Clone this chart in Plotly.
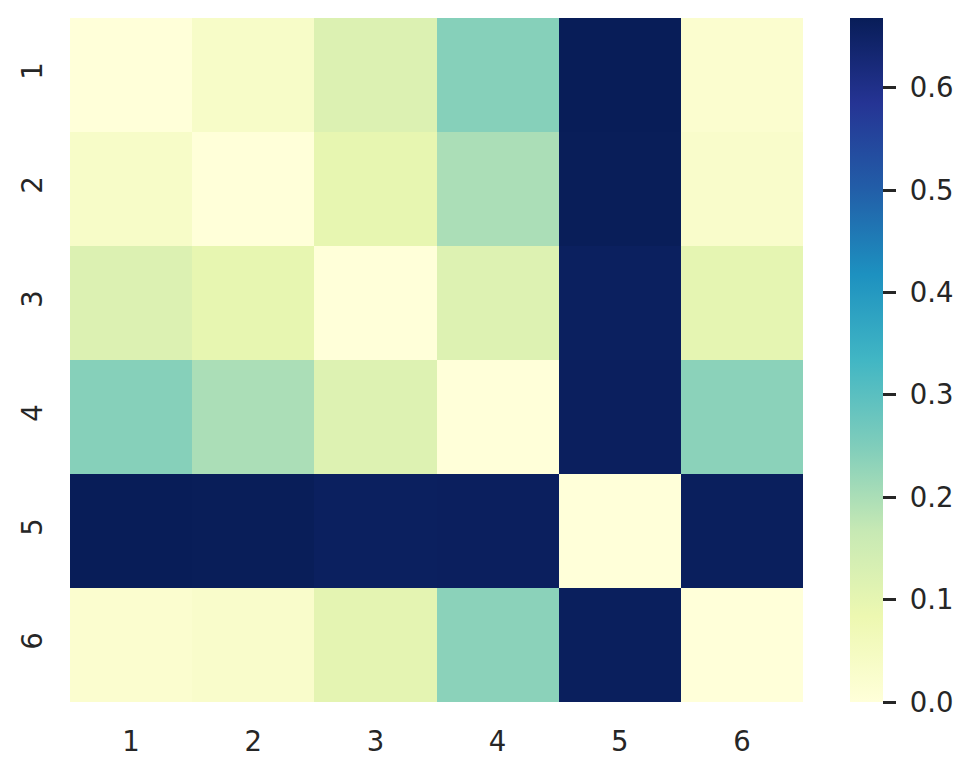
import plotly.graph_objects as go

labels = ["1", "2", "3", "4", "5", "6"]

# distance-like matrix
row_1 = [0.00, 0.035, 0.12, 0.242, 0.668, 0.02]
row_2 = [0.035, 0.00, 0.097, 0.20, 0.666, 0.03]
row_3 = [0.12, 0.097, 0.00, 0.119, 0.658, 0.10]
row_4 = [0.242, 0.20, 0.119, 0.00, 0.660, 0.237]
row_5 = [0.668, 0.666, 0.658, 0.660, 0.00, 0.661]
row_6 = [0.02, 0.03, 0.103, 0.237, 0.661, 0.00]

cbar_ticks = [0.0, 0.1, 0.2, 0.3, 0.4, 0.5, 0.6]

# matplotlib YlGnBu
ylgnbu = ["#ffffd9", "#edf8b1", "#c7e9b4", "#7fcdbb", "#41b6c4",
          "#1d91c0", "#225ea8", "#253494", "#081d58"]
scale = [[i / (len(ylgnbu) - 1), c] for i, c in enumerate(ylgnbu)]

z = [row_1, row_2, row_3, row_4, row_5, row_6]
zmax = max(max(r) for r in z)

# page has an 8px body margin, so the figure sits at (8, 8)
fig = go.Figure(go.Heatmap(
    z=z, x=labels, y=labels,
    colorscale=scale, zmin=0, zmax=zmax,
    colorbar=dict(
        x=(842 - 62) / 733, xanchor="left", xpad=0,
        y=0.5, len=1, thickness=33, outlinewidth=0, ypad=0,
        tickvals=cbar_ticks,
        ticktext=["\u00a0" + f"{v:.1f}" for v in cbar_ticks],
        ticks="outside", ticklen=13, tickwidth=3, tickcolor="#262626",
        tickfont=dict(family="DejaVu Sans", size=27.5, color="#262626"),
    ),
))

fig.update_layout(
    width=971, height=772,
    margin=dict(l=62, r=176, t=10, b=78, autoexpand=False),
    plot_bgcolor="white", paper_bgcolor="white",
    font=dict(family="DejaVu Sans", size=27.5, color="#262626"),
)
fig.update_xaxes(showgrid=False, zeroline=False, ticks="outside", ticklen=15,
                 tickcolor="rgba(0,0,0,0)", automargin=False)
fig.update_yaxes(showgrid=False, zeroline=False, autorange="reversed",
                 ticks="outside", ticklen=16, tickcolor="rgba(0,0,0,0)",
                 tickangle=-90, automargin=False)

fig.write_html("out.html")
